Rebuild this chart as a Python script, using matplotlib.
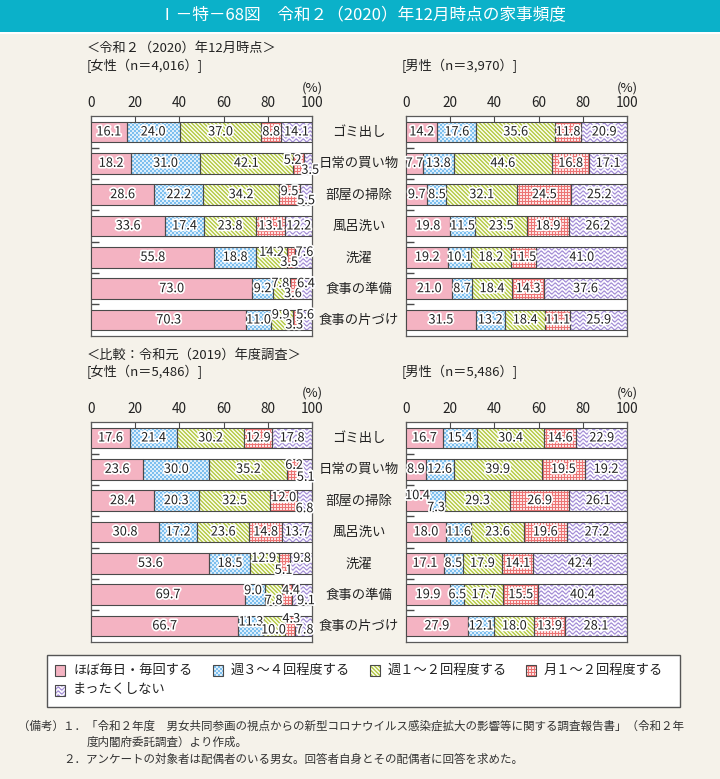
import numpy as np
import matplotlib
matplotlib.use('Agg')
import matplotlib.pyplot as plt
from matplotlib.patches import Rectangle, PathPatch
from matplotlib.path import Path
from matplotlib.transforms import blended_transform_factory
import matplotlib.patheffects as pe
from matplotlib.colors import to_rgb

plt.rcParams['font.family'] = ['Noto Sans CJK JP', 'DejaVu Sans']

# ---------------- data ----------------
title = 'Ⅰ－特－68図　令和２（2020）年12月時点の家事頻度'
categories = ['ゴミ出し', '日常の買い物', '部屋の掃除', '風呂洗い', '洗濯', '食事の準備', '食事の片づけ']
series_names = ['ほぼ毎日・毎回する', '週３～４回程度する', '週１～２回程度する', '月１～２回程度する', 'まったくしない']
xticks = [0, 20, 40, 60, 80, 100]

f2020_daily = [16.1, 18.2, 28.6, 33.6, 55.8, 73.0, 70.3]
f2020_w34 = [24.0, 31.0, 22.2, 17.4, 18.8, 9.2, 11.0]
f2020_w12 = [37.0, 42.1, 34.2, 23.8, 14.2, 7.8, 9.9]
f2020_m12 = [8.8, 5.2, 9.5, 13.1, 3.5, 3.6, 3.3]
f2020_none = [14.1, 3.5, 5.5, 12.2, 7.6, 6.4, 5.6]

m2020_daily = [14.2, 7.7, 9.7, 19.8, 19.2, 21.0, 31.5]
m2020_w34 = [17.6, 13.8, 8.5, 11.5, 10.1, 8.7, 13.2]
m2020_w12 = [35.6, 44.6, 32.1, 23.5, 18.2, 18.4, 18.4]
m2020_m12 = [11.8, 16.8, 24.5, 18.9, 11.5, 14.3, 11.1]
m2020_none = [20.9, 17.1, 25.2, 26.2, 41.0, 37.6, 25.9]

f2019_daily = [17.6, 23.6, 28.4, 30.8, 53.6, 69.7, 66.7]
f2019_w34 = [21.4, 30.0, 20.3, 17.2, 18.5, 9.0, 11.3]
f2019_w12 = [30.2, 35.2, 32.5, 23.6, 12.9, 7.8, 10.0]
f2019_m12 = [12.9, 6.2, 12.0, 14.8, 5.1, 4.4, 4.3]
f2019_none = [17.8, 5.1, 6.8, 13.7, 9.8, 9.1, 7.8]

m2019_daily = [16.7, 8.9, 10.4, 18.0, 17.1, 19.9, 27.9]
m2019_w34 = [15.4, 12.6, 7.3, 11.6, 8.5, 6.5, 12.1]
m2019_w12 = [30.4, 39.9, 29.3, 23.6, 17.9, 17.7, 18.0]
m2019_m12 = [14.6, 19.5, 26.9, 19.6, 14.1, 15.5, 13.9]
m2019_none = [22.9, 19.2, 26.1, 27.2, 42.4, 40.4, 28.1]

header_2020 = '＜令和２（2020）年12月時点＞'
header_2019 = '＜比較：令和元（2019）年度調査＞'
label_f2020 = '[女性（n＝4,016）]'
label_m2020 = '[男性（n＝3,970）]'
label_f2019 = '[女性（n＝5,486）]'
label_m2019 = '[男性（n＝5,486）]'
notes = ['（備考）', '１．「令和２年度　男女共同参画の視点からの新型コロナウイルス感染症拡大の影響等に関する調査報告書」（令和２年',
         '度内閣府委託調査）より作成。',
         '２．アンケートの対象者は配偶者のいる男女。回答者自身とその配偶者に回答を求めた。']

# label offsets (row, segment) -> (dx px, dy px down)
off_f2020 = {(1, 3): (-6, -3), (1, 4): (2, 7), (2, 3): (0, -3), (2, 4): (0, 6),
             (4, 2): (0, -5), (4, 3): (-2, 5), (4, 4): (1, -5),
             (5, 2): (-1, -5), (5, 3): (-1, 5), (5, 4): (1, -5),
             (6, 2): (-1, -5), (6, 3): (-2, 5), (6, 4): (-1, -5)}
off_m2020 = {}
off_f2019 = {(1, 3): (0, -4), (1, 4): (-1, 8), (2, 3): (0, -3), (2, 4): (0, 8),
             (4, 2): (-1, -5), (4, 3): (-1, 7), (4, 4): (1, -5),
             (5, 1): (-2, -4), (5, 2): (0, 6), (5, 3): (4, -4), (5, 4): (4, 6),
             (6, 1): (0, -4), (6, 2): (-1, 4), (6, 3): (1, -7), (6, 4): (1, 4)}
off_m2019 = {(2, 0): (0, -5), (2, 1): (-1, 7)}

# ---------------- style ----------------
BG = '#F5F2EA'
TEAL = '#0BB1C9'
PINK = '#F4B3C2'
EDGE = '#4A4A4A'
TXT = '#222222'
W_PX, H_PX = 720, 779
BAR_H = 0.65
YLIM = (6.51, -0.51)


def rgb(c):
    return np.array(to_rgb(c))


def texture(kind, X, Y):
    out = np.ones(X.shape + (3,))
    if kind == 'blue':
        m = ((X // 2 + Y // 2) % 2) == 0
        out[:] = rgb('#DCEEFB')
        out[m] = rgb('#7DBFEE')
    elif kind == 'green':
        m = ((X - Y) % 4) < 2
        out[:] = rgb('#F4F7DF')
        out[m] = rgb('#BCCF58')
    elif kind == 'red':
        m = (X % 3 == 0) | (Y % 3 == 0)
        out[:] = rgb('#FCE3E3')
        out[m] = rgb('#EC7474')
    elif kind == 'purple':
        ph = (Y + 1.3 * np.sin(2 * np.pi * X / 7.0)) % 4.0
        dd = np.minimum(ph, 4.0 - ph)
        a = np.clip(1.35 - dd, 0, 1)[..., None]
        out = (1 - a) * rgb('#FBFAFE') + a * rgb('#A893D8')
    return out


KINDS = ['pink', 'blue', 'green', 'red', 'purple']

fig = plt.figure(figsize=(7.2, 7.79), dpi=100, facecolor=BG)

# overlay axes in pixel coordinates
ov = fig.add_axes([0, 0, 1, 1], zorder=0)
ov.set_xlim(0, W_PX)
ov.set_ylim(H_PX, 0)
ov.axis('off')

ov.add_patch(Rectangle((0, 0), W_PX, 32, facecolor=TEAL, edgecolor='none'))
ov.add_patch(Rectangle((0, 32), W_PX, 1.5, facecolor='#FFFFFF', edgecolor='none'))
ov.text(362, 16, title, ha='center', va='center', fontsize=12, color='white')


def frac_rect(l, t, w, h):
    return [l / W_PX, 1 - (t + h) / H_PX, w / W_PX, h / H_PX]


def draw_panel(rect_px, data, offsets, with_cats=False):
    ax = fig.add_axes(frac_rect(*rect_px), zorder=2)
    ax.set_facecolor('white')
    y = np.arange(len(categories))
    left = np.zeros(len(categories))
    bar_sets = []
    for k, vals in enumerate(data):
        vals = np.array(vals)
        fc = PINK if k == 0 else 'none'
        bars = ax.barh(y, vals, left=left, height=BAR_H, facecolor=fc,
                       edgecolor=EDGE, linewidth=0.8, zorder=3)
        bar_sets.append(bars)
        for i in range(len(vals)):
            dx, dy = offsets.get((i, k), (0, 0))
            ax.annotate(f'{vals[i]:.1f}', xy=(left[i] + vals[i] / 2, i), xytext=(dx, -dy),
                        textcoords='offset pixels', ha='center', va='center',
                        fontsize=9.2, color=TXT, zorder=6, annotation_clip=False,
                        path_effects=[pe.withStroke(linewidth=2.5, foreground='white')])
        left = left + vals
    L, T, Wp, Hp = rect_px
    X, Y = np.meshgrid(np.arange(L, L + Wp), np.arange(T, T + Hp))
    for k in range(1, 5):
        img = texture(KINDS[k], X, Y)
        im = ax.imshow(img, extent=(0, 100, YLIM[0], YLIM[1]), origin='upper',
                       interpolation='nearest', aspect='auto', zorder=2)
        paths = [b.get_path().transformed(b.get_patch_transform()) for b in bar_sets[k]]
        cp = PathPatch(Path.make_compound_path(*paths), transform=ax.transData,
                       facecolor='none', edgecolor='none')
        im.set_clip_path(cp)
    ax.set_xlim(0, 100)
    ax.set_ylim(*YLIM)
    ax.xaxis.tick_top()
    ax.set_xticks(xticks)
    ax.set_xticklabels([str(t) for t in xticks])
    ax.tick_params(axis='x', direction='in', length=4, width=0.8, color=EDGE,
                   labelsize=9.8, pad=4, labelcolor=TXT)
    ax.set_yticks([])
    ax.set_yticks(np.arange(0.5, 6.0, 1.0), minor=True)
    ax.tick_params(axis='y', which='minor', direction='in', length=6, width=1.0,
                   color=EDGE, left=True, labelleft=False)
    for s in ax.spines.values():
        s.set_color('#5A5A5A')
        s.set_linewidth(0.9)
    if with_cats:
        tr = blended_transform_factory(fig.transFigure, ax.transData)
        for i, c in enumerate(categories):
            ax.text(359 / W_PX, i, c, transform=tr, ha='center', va='center',
                    fontsize=9.6, color=TXT, clip_on=False)
    return ax


draw_panel((91, 116, 221, 220), [f2020_daily, f2020_w34, f2020_w12, f2020_m12, f2020_none], off_f2020, True)
draw_panel((406, 116, 221, 220), [m2020_daily, m2020_w34, m2020_w12, m2020_m12, m2020_none], off_m2020)
draw_panel((91, 422, 221, 220), [f2019_daily, f2019_w34, f2019_w12, f2019_m12, f2019_none], off_f2019, True)
draw_panel((406, 422, 221, 220), [m2019_daily, m2019_w34, m2019_w12, m2019_m12, m2019_none], off_m2019)

# headers
hs = dict(fontsize=9.5, color=TXT, va='center', ha='left')
ov.text(87, 48, header_2020, **hs)
ov.text(87, 66, label_f2020, **hs)
ov.text(402, 66, label_m2020, **hs)
ov.text(312, 88, '(%)', fontsize=9.5, color=TXT, ha='center', va='center')
ov.text(627, 88, '(%)', fontsize=9.5, color=TXT, ha='center', va='center')
ov.text(87, 355, header_2019, **hs)
ov.text(87, 372, label_f2019, **hs)
ov.text(402, 372, label_m2019, **hs)
ov.text(312, 393, '(%)', fontsize=9.5, color=TXT, ha='center', va='center')
ov.text(627, 393, '(%)', fontsize=9.5, color=TXT, ha='center', va='center')

# legend
ov.add_patch(Rectangle((47, 655), 633, 52, facecolor='white', edgecolor='#555555', linewidth=1.0))
leg_pos = [(55, 670), (213, 670), (370, 670), (526, 670), (55, 690)]
for k, (lx, ly) in enumerate(leg_pos):
    x0, y0 = lx, ly - 5
    w, h = 10, 11
    if KINDS[k] == 'pink':
        ov.add_patch(Rectangle((x0, y0), w, h, facecolor=PINK, edgecolor=EDGE, linewidth=0.8, zorder=3))
    else:
        X, Y = np.meshgrid(np.arange(x0, x0 + w), np.arange(y0, y0 + h))
        ov.imshow(texture(KINDS[k], X, Y), extent=(x0, x0 + w, y0 + h, y0), origin='upper',
                  interpolation='nearest', aspect='auto', zorder=2)
        ov.add_patch(Rectangle((x0, y0), w, h, facecolor='none', edgecolor=EDGE, linewidth=0.8, zorder=3))
    ov.text(x0 + w + 8, ly, series_names[k], fontsize=9.5, color=TXT, ha='left', va='center')
ov.set_xlim(0, W_PX)
ov.set_ylim(H_PX, 0)

# notes
ns = dict(fontsize=8.3, color='#333333', va='center', ha='left')
ov.text(18, 726, notes[0], **ns)
ov.text(63, 726, notes[1], **ns)
ov.text(87, 742, notes[2], **ns)
ov.text(63, 759, notes[3], **ns)

fig.savefig('out.png', dpi=100, facecolor=BG)
